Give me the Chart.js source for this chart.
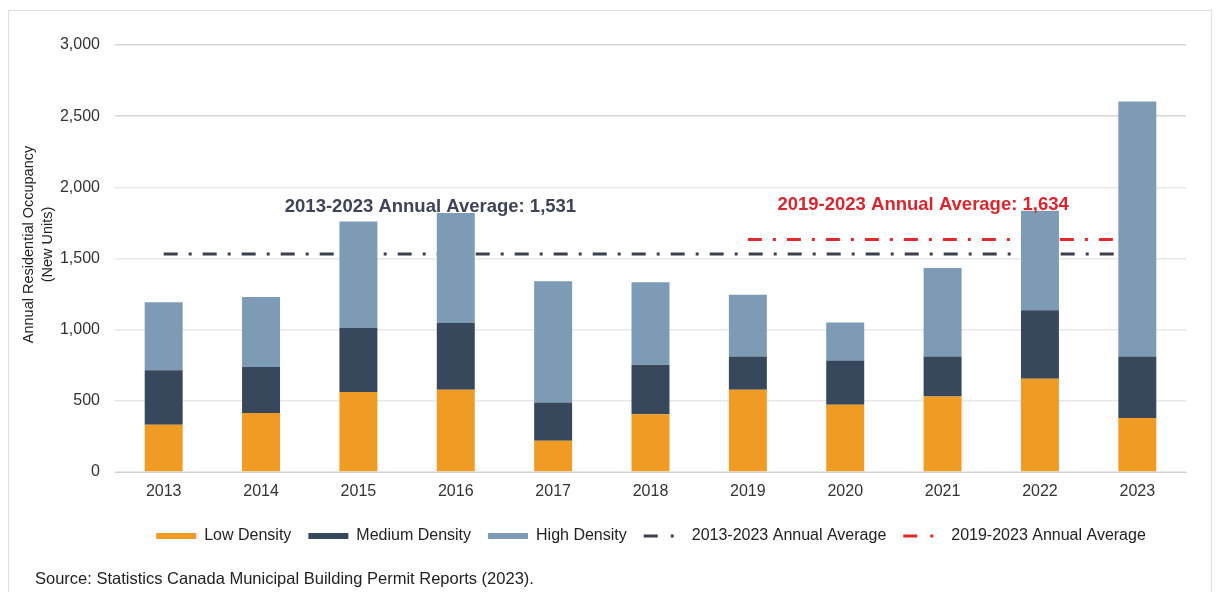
<!DOCTYPE html>
<html>
<head>
<meta charset="utf-8">
<script src="https://cdn.jsdelivr.net/npm/chart.js@4.4.1/dist/chart.umd.min.js"></script>
<style>
  html, body { margin: 0; padding: 0; background: #fff; }
  #wrap { position: relative; width: 1220px; height: 592px; overflow: hidden; }
  #frame { position: absolute; left: 8px; top: 10px; width: 1204px; height: 620px;
           border: 1px solid #dedede; box-sizing: border-box; }
  #c { position: absolute; left: 0; top: 0; }
  #source { position: absolute; left: 35px; top: 569px; font: 16.5px "Liberation Sans", Arial, sans-serif;
            color: #222; white-space: nowrap; }
</style>
</head>
<body>
<div id="wrap">
  <div id="frame"></div>
  <canvas id="c" width="1220" height="592"></canvas>
  <div id="source">Source: Statistics Canada Municipal Building Permit Reports (2023).</div>
</div>
<script>
// Annual new residential units by density type
const years = ['2013', '2014', '2015', '2016', '2017', '2018', '2019', '2020', '2021', '2022', '2023'];
const lowDensity    = [332, 415, 562, 578, 220, 405, 578, 473, 531, 656, 379];
const mediumDensity = [382, 323, 450, 469, 269, 349, 234, 311, 281, 480, 433];
const highDensity   = [478, 492, 748, 773, 851, 579, 434, 267, 622, 700, 1791];

// Period averages of total units
const avgAllYears = 1531;     // 2013-2023
const avgRecentYears = 1634;  // 2019-2023
const recentStart = '2019';

const yTicks = [0, 500, 1000, 1500, 2000, 2500, 3000];

const FONT = '"Liberation Sans", Arial, Helvetica, sans-serif';
const fmt = v => v.toLocaleString('en-US');

Chart.defaults.font.family = FONT;
Chart.defaults.color = '#333';

const avgAllLabel = '2013-2023 Annual Average';
const avgRecentLabel = '2019-2023 Annual Average';

// Bold captions above the average lines
const averageCaptions = {
  id: 'averageCaptions',
  afterDatasetsDraw(chart, args, opts) {
    const { ctx, scales: { x, y } } = chart;
    ctx.save();
    ctx.font = 'bold 18.5px ' + FONT;
    ctx.textAlign = 'center';
    ctx.textBaseline = 'middle';
    opts.items.forEach(it => {
      ctx.fillStyle = it.color;
      ctx.fillText(it.text, x.getPixelForValue(it.at), y.getPixelForValue(it.level));
    });
    ctx.restore();
  }
};

// Two-line vertical axis title
const yAxisTitle = {
  id: 'yAxisTitle',
  afterDraw(chart, args, opts) {
    const { ctx, chartArea } = chart;
    ctx.save();
    ctx.font = '14.5px ' + FONT;
    ctx.fillStyle = '#222';
    ctx.textAlign = 'center';
    ctx.textBaseline = 'middle';
    ctx.translate(chartArea.left - 86, (chartArea.top + chartArea.bottom) / 2 - 14);
    ctx.rotate(-Math.PI / 2);
    opts.lines.forEach((line, i) => ctx.fillText(line, 0, i * 18.5));
    ctx.restore();
  }
};

// Nudge the legend row to the right of centre
const legendOffset = {
  id: 'legendOffset',
  afterLayout(chart, args, opts) {
    if (chart.legend) {
      chart.legend.left += opts.dx;
      chart.legend.right += opts.dx;
    }
  }
};

const lineDash = [14, 11, 3, 11];

new Chart(document.getElementById('c'), {
  type: 'bar',
  data: {
    labels: years,
    datasets: [
      { label: 'Low Density', data: lowDensity, backgroundColor: '#F09B23', stack: 'units', pointStyle: 'rect' },
      { label: 'Medium Density', data: mediumDensity, backgroundColor: '#37485C', stack: 'units', pointStyle: 'rect' },
      { label: 'High Density', data: highDensity, backgroundColor: '#7D9BB4', stack: 'units', pointStyle: 'rect' },
      {
        type: 'line', label: avgAllLabel, stack: 'avgAll',
        data: years.map(() => avgAllYears),
        borderColor: '#3b3f4e', backgroundColor: '#3b3f4e', borderWidth: 3, borderDash: lineDash,
        pointRadius: 0, pointStyle: 'line', fill: false
      },
      {
        type: 'line', label: avgRecentLabel, stack: 'avgRecent',
        data: years.map(yr => (yr >= recentStart ? avgRecentYears : null)),
        borderColor: '#e0282d', backgroundColor: '#e0282d', borderWidth: 3, borderDash: lineDash,
        pointRadius: 0, pointStyle: 'line', fill: false
      }
    ]
  },
  options: {
    responsive: false,
    animation: false,
    events: [],
    layout: { padding: { left: 10, right: 34, top: 45, bottom: 38 } },
    datasets: { bar: { categoryPercentage: 1, barPercentage: 0.39 } },
    scales: {
      x: {
        stacked: true,
        grid: { display: false, drawTicks: false },
        border: { display: true, color: '#d3d3d3', width: 1 },
        ticks: { padding: 10, color: '#333', font: { size: 16 } },
        afterFit: s => { s.height = 39; }
      },
      y: {
        stacked: true,
        min: yTicks[0],
        max: yTicks[yTicks.length - 1],
        afterBuildTicks: s => { s.ticks = yTicks.map(v => ({ value: v })); },
        ticks: { padding: 15, color: '#333', font: { size: 16 }, callback: v => fmt(v) },
        grid: {
          drawTicks: false,
          color: c => (c.tick && c.tick.value >= 2500 ? '#d6d6d6' : '#e8e8e8'),
          lineWidth: 1.5
        },
        border: { display: false },
        afterFit: s => { s.width = 105; }
      }
    },
    plugins: {
      legend: {
        position: 'bottom',
        labels: {
          usePointStyle: true,
          pointStyleWidth: 40,
          boxHeight: 6,
          padding: 17,
          color: '#222',
          font: { size: 16 },
          sort: (a, b) => a.datasetIndex - b.datasetIndex,
          generateLabels: chart => {
            const items = Chart.defaults.plugins.legend.labels.generateLabels(chart);
            items.forEach(it => {
              if (it.pointStyle === 'line') {
                it.lineDash = [14, 13, 3, 10];
                it.lineDashOffset = 0;
              }
            });
            return items;
          }
        }
      },
      tooltip: { enabled: false },
      legendOffset: { dx: 53 },
      yAxisTitle: { lines: ['Annual Residential Occupancy', '(New Units)'] },
      averageCaptions: {
        items: [
          { text: avgAllLabel + ': ' + fmt(avgAllYears), color: '#3f4359', at: 2.74, level: 1864 },
          { text: avgRecentLabel + ': ' + fmt(avgRecentYears), color: '#d8262f', at: 7.8, level: 1878 }
        ]
      }
    }
  },
  plugins: [averageCaptions, yAxisTitle, legendOffset]
});
</script>
</body>
</html>
